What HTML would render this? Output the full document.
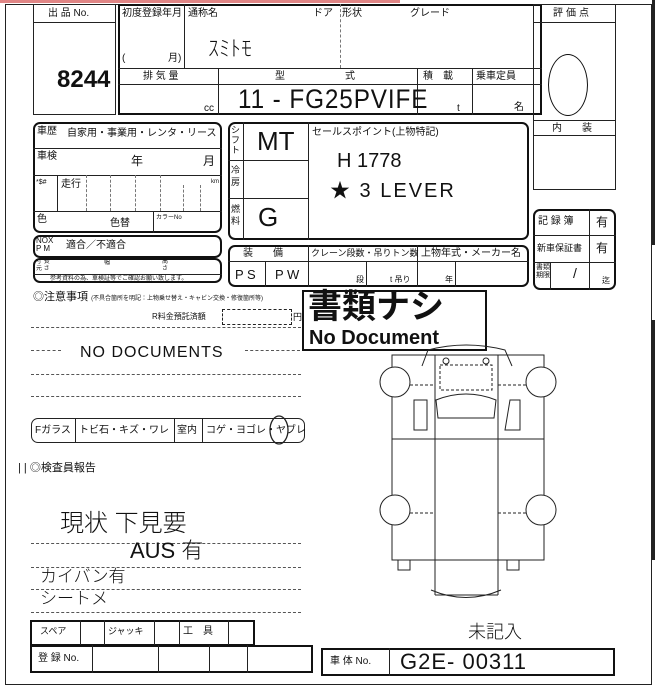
<!DOCTYPE html>
<html><head><meta charset="utf-8"><style>
*{margin:0;padding:0;box-sizing:border-box}
body{width:656px;height:689px;background:#fff;position:relative;overflow:hidden;font-family:"Liberation Sans","Noto Sans CJK JP",sans-serif;color:#111}
div{position:absolute}
.b{border:1px solid #222}
.B{border:2px solid #111}
.r{border-radius:7px}
.t{font-size:10px;white-space:nowrap;line-height:1}
.hl{height:0;border-top:1px solid #222}
.vl{width:0;border-left:1px solid #222}
.dh{height:0;border-top:1px dashed #555}
.dv{width:0;border-left:1px dashed #777}
.hw{font-family:"Liberation Sans","Noto Sans CJK JP",sans-serif;font-weight:300;white-space:nowrap;line-height:1;color:#111}
</style></head><body>
<div style="left:0;top:0;width:400px;height:3px;background:#c33;opacity:.6"></div>
<div class="b" style="left:5px;top:4px;width:647px;height:681px"></div>
<div style="left:652px;top:0;width:3px;height:245px;background:#222"></div>
<div style="left:652px;top:320px;width:3px;height:240px;background:#222"></div>

<div class="b" style="left:33px;top:4px;width:83px;height:111px"></div>
<div class="hl" style="left:33px;top:22px;width:83px"></div>
<div class="t" style="left:48px;top:9px">出 品 No.</div>
<div style="left:57px;top:66px;font-size:24px;font-weight:bold">8244</div>

<div class="B" style="left:118px;top:4px;width:424px;height:111px"></div>
<div class="vl" style="left:184px;top:4px;height:64px"></div>
<div class="dv" style="left:340px;top:4px;height:64px"></div>
<div class="hl" style="left:118px;top:68px;width:424px"></div>
<div class="hl" style="left:118px;top:84px;width:424px"></div>
<div class="vl" style="left:218px;top:68px;height:47px"></div>
<div class="vl" style="left:417px;top:68px;height:47px"></div>
<div class="vl" style="left:472px;top:68px;height:47px"></div>
<div class="t" style="left:122px;top:9px">初度登録年月</div>
<div class="t" style="left:188px;top:9px">通称名</div>
<div class="t" style="left:313px;top:9px">ドア</div>
<div class="t" style="left:342px;top:9px">形状</div>
<div class="t" style="left:410px;top:9px">グレード</div>
<div class="t" style="left:122px;top:54px">(</div>
<div class="t" style="left:168px;top:54px">月)</div>
<div class="hw" style="left:208px;top:38px;font-size:22px">ｽﾐﾄﾓ</div>
<div class="t" style="left:143px;top:72px">排 気 量</div>
<div class="t" style="left:275px;top:72px">型</div>
<div class="t" style="left:345px;top:72px">式</div>
<div class="t" style="left:423px;top:72px">積　載</div>
<div class="t" style="left:476px;top:72px">乗車定員</div>
<div class="t" style="left:204px;top:104px">cc</div>
<div class="t" style="left:457px;top:104px">t</div>
<div class="t" style="left:514px;top:103px">名</div>
<div class="hw" style="left:238px;top:86px;font-size:27px;letter-spacing:1px;transform:scaleX(0.9);transform-origin:left">11 - FG25PVIFE</div>

<div class="b" style="left:533px;top:4px;width:83px;height:186px"></div>
<div class="hl" style="left:533px;top:22px;width:83px"></div>
<div class="hl" style="left:533px;top:120px;width:83px"></div>
<div class="hl" style="left:533px;top:135px;width:83px"></div>
<div class="t" style="left:553px;top:9px;letter-spacing:3px">評価点</div>
<div class="t" style="left:552px;top:124px">内　　装</div>
<div style="left:548px;top:54px;width:40px;height:62px;border:1.5px solid #111;border-radius:50%"></div>

<div class="B r" style="left:533px;top:209px;width:83px;height:81px"></div>
<div class="hl" style="left:533px;top:235px;width:83px"></div>
<div class="hl" style="left:533px;top:262px;width:83px"></div>
<div class="vl" style="left:589px;top:209px;height:81px"></div>
<div class="vl" style="left:550px;top:262px;height:28px"></div>
<div class="t" style="left:538px;top:217px">記 録 簿</div>
<div class="t" style="left:596px;top:216px;font-size:12px">有</div>
<div class="t" style="left:537px;top:244px;font-size:9px">新車保証書</div>
<div class="t" style="left:596px;top:242px;font-size:12px">有</div>
<div class="t" style="left:536px;top:264px;font-size:7px;line-height:1.2">書類<br>期限</div>
<div class="t" style="left:573px;top:266px;font-size:14px">/</div>
<div class="t" style="left:602px;top:277px;font-size:8px">迄</div>

<div class="B r" style="left:33px;top:122px;width:189px;height:111px"></div>
<div class="hl" style="left:33px;top:148px;width:189px"></div>
<div class="hl" style="left:33px;top:175px;width:189px"></div>
<div class="hl" style="left:33px;top:211px;width:189px"></div>
<div class="vl" style="left:57px;top:175px;height:36px"></div>
<div class="dv" style="left:86px;top:175px;height:36px"></div>
<div class="dv" style="left:110px;top:175px;height:36px"></div>
<div class="dv" style="left:135px;top:175px;height:36px"></div>
<div class="dv" style="left:160px;top:175px;height:36px"></div>
<div class="dv" style="left:183px;top:185px;height:26px"></div>
<div class="dv" style="left:200px;top:185px;height:26px"></div>
<div class="t" style="left:37px;top:127px">車歴</div>
<div class="t" style="left:67px;top:129px">自家用・事業用・レンタ・リース</div>
<div class="t" style="left:37px;top:152px">車検</div>
<div class="t" style="left:131px;top:155px;font-size:12px">年</div>
<div class="t" style="left:203px;top:155px;font-size:12px">月</div>
<div class="t" style="left:36px;top:179px;font-size:7px">*$#</div>
<div class="t" style="left:61px;top:180px">走行</div>
<div class="t" style="left:211px;top:179px;font-size:6px">km</div>
<div class="t" style="left:37px;top:215px">色</div>
<div class="t" style="left:110px;top:219px">色替</div>
<div class="t" style="left:156px;top:215px;font-size:6px">カラーNo</div>
<div class="vl" style="left:153px;top:211px;height:22px"></div>

<div class="B r" style="left:33px;top:235px;width:189px;height:23px"></div>
<div class="t" style="left:36px;top:237px;font-size:8px;line-height:1.05">NOX<br>P M</div>
<div class="t" style="left:66px;top:241px">適合／不適合</div>
<div class="B r" style="left:33px;top:258px;width:189px;height:25px"></div>
<div class="hl" style="left:33px;top:274px;width:189px"></div>
<div class="t" style="left:36px;top:259px;font-size:6px;line-height:1.1">寸 長<br>元 さ</div>
<div class="t" style="left:104px;top:260px;font-size:6px">幅</div>
<div class="t" style="left:162px;top:259px;font-size:6px;line-height:1.1">高<br>さ</div>
<div class="t" style="left:50px;top:276px;font-size:6px">参考資料の為、車検証等でご確認お願い致します。</div>

<div class="B r" style="left:228px;top:122px;width:301px;height:118px"></div>
<div class="vl" style="left:243px;top:122px;height:118px"></div>
<div class="vl" style="left:308px;top:122px;height:118px"></div>
<div class="hl" style="left:228px;top:160px;width:80px"></div>
<div class="hl" style="left:228px;top:198px;width:80px"></div>
<div class="t" style="left:231px;top:126px;font-size:9px;line-height:1.1">シ<br>フ<br>ト</div>
<div class="t" style="left:231px;top:165px;font-size:9px;line-height:1.3">冷<br>房</div>
<div class="t" style="left:231px;top:204px;font-size:9px;line-height:1.3">燃<br>料</div>
<div class="hw" style="left:257px;top:128px;font-size:26px">MT</div>
<div class="hw" style="left:258px;top:204px;font-size:26px">G</div>
<div class="t" style="left:312px;top:128px">セールスポイント(上物特記)</div>
<div class="hw" style="left:337px;top:151px;font-size:20px">H 1778</div>
<div class="hw" style="left:330px;top:181px;font-size:20px;letter-spacing:2px">★ 3 LEVER</div>

<div class="B r" style="left:228px;top:245px;width:301px;height:42px"></div>
<div class="hl" style="left:228px;top:261px;width:301px"></div>
<div class="vl" style="left:265px;top:261px;height:26px"></div>
<div class="vl" style="left:308px;top:245px;height:42px"></div>
<div class="vl" style="left:366px;top:261px;height:26px"></div>
<div class="vl" style="left:417px;top:245px;height:42px"></div>
<div class="vl" style="left:455px;top:261px;height:26px"></div>
<div class="t" style="left:243px;top:249px">装　　備</div>
<div class="t" style="left:311px;top:249px;font-size:9px">クレーン段数・吊りトン数</div>
<div class="t" style="left:421px;top:249px">上物年式・メーカー名</div>
<div class="t" style="left:235px;top:268px;font-size:13px">P S</div>
<div class="t" style="left:275px;top:268px;font-size:13px">P W</div>
<div class="t" style="left:356px;top:276px;font-size:8px">段</div>
<div class="t" style="left:390px;top:276px;font-size:8px">t 吊り</div>
<div class="t" style="left:445px;top:276px;font-size:8px">年</div>

<div class="t" style="left:33px;top:292px;font-size:11px">◎注意事項 <span style="font-size:6px">(不具合箇所を明記：上物乗せ替え・キャビン交換・修復箇所等)</span></div>
<div class="t" style="left:152px;top:313px;font-size:8px">R料金預託済額</div>
<div class="b" style="left:222px;top:309px;width:70px;height:16px;border-style:dashed"></div>
<div class="t" style="left:293px;top:313px;font-size:9px">円</div>
<div class="dh" style="left:31px;top:327px;width:270px"></div>
<div class="dh" style="left:31px;top:350px;width:30px"></div>
<div class="dh" style="left:245px;top:350px;width:55px"></div>
<div class="dh" style="left:31px;top:374px;width:270px"></div>
<div class="dh" style="left:31px;top:396px;width:270px"></div>
<div class="hw" style="left:80px;top:345px;font-size:16px;letter-spacing:1px">NO DOCUMENTS</div>

<div style="left:302px;top:290px;width:185px;height:61px;border:2px solid #111;background:#fff"></div>
<div style="left:308px;top:290px;font-size:34px;font-weight:bold;line-height:1;white-space:nowrap">書類ナシ</div>
<div style="left:309px;top:328px;font-size:20px;font-weight:bold;line-height:1;white-space:nowrap">No Document</div>

<svg style="position:absolute;left:0;top:0" width="656" height="689">
<g fill="none" stroke="#222" stroke-width="1">
<rect x="392" y="355" width="152" height="205" fill="#fff"/>
<line x1="435" y1="355" x2="435" y2="595"/>
<line x1="498" y1="355" x2="498" y2="595"/>
<line x1="392" y1="439" x2="544" y2="439"/>
<line x1="435" y1="595" x2="498" y2="595"/>
<path d="M431 590 Q466 605 501 590"/>
<path d="M422 366 L428 350 Q466 340 505 350 L512 366"/>
<path d="M440 365 L492 365 L492 390 L440 390 Z" stroke-dasharray="3,2"/>
<path d="M436 400 Q466 388 496 400 L494 418 L438 418 Z"/>
<rect x="414" y="400" width="13" height="30"/>
<path d="M510 400 L520 400 L520 430 L505 430 Z"/>
<circle cx="446" cy="361" r="3"/><circle cx="486" cy="361" r="3"/>
<circle cx="395" cy="382" r="15" fill="#fff"/>
<circle cx="541" cy="382" r="15" fill="#fff"/>
<circle cx="395" cy="510" r="15" fill="#fff"/>
<circle cx="541" cy="510" r="15" fill="#fff"/>
<line x1="410" y1="385" x2="435" y2="385" stroke-dasharray="3,2"/>
<line x1="498" y1="385" x2="526" y2="385" stroke-dasharray="3,2"/>
<line x1="410" y1="513" x2="435" y2="513" stroke-dasharray="3,2"/>
<line x1="498" y1="513" x2="526" y2="513" stroke-dasharray="3,2"/>
<rect x="398" y="560" width="12" height="10"/>
<rect x="507" y="560" width="12" height="10"/>
<ellipse cx="279" cy="430" rx="9" ry="14" stroke-width="1.3"/>
</g>
</svg>

<div class="b r" style="left:31px;top:418px;width:274px;height:25px"></div>
<div class="vl" style="left:75px;top:418px;height:25px"></div>
<div class="vl" style="left:174px;top:418px;height:25px"></div>
<div class="vl" style="left:202px;top:418px;height:25px"></div>
<div class="t" style="left:35px;top:426px">Fガラス</div>
<div class="t" style="left:79px;top:426px">トビ石・キズ・ワレ</div>
<div class="t" style="left:177px;top:426px">室内</div>
<div class="t" style="left:206px;top:426px">コゲ・ヨゴレ・ヤブレ</div>

<div class="t" style="left:18px;top:463px;font-size:11px">| | ◎検査員報告</div>
<div class="dh" style="left:31px;top:543px;width:270px"></div>
<div class="dh" style="left:31px;top:567px;width:270px"></div>
<div class="dh" style="left:31px;top:589px;width:270px"></div>
<div class="dh" style="left:31px;top:612px;width:270px"></div>
<div class="hw" style="left:60px;top:512px;font-size:24px">現状 下見要</div>
<div class="hw" style="left:130px;top:540px;font-size:22px">AUS 有</div>
<div class="hw" style="left:40px;top:568px;font-size:17px">カイバン有</div>
<div class="hw" style="left:40px;top:590px;font-size:17px">シートメ</div>

<div class="B" style="left:30px;top:620px;width:225px;height:26px"></div>
<div class="vl" style="left:80px;top:620px;height:26px"></div>
<div class="vl" style="left:104px;top:620px;height:26px"></div>
<div class="vl" style="left:154px;top:620px;height:26px"></div>
<div class="vl" style="left:179px;top:620px;height:26px"></div>
<div class="vl" style="left:228px;top:620px;height:26px"></div>
<div class="t" style="left:40px;top:627px;font-size:9px">スペア</div>
<div class="t" style="left:108px;top:627px;font-size:9px">ジャッキ</div>
<div class="t" style="left:183px;top:627px;font-size:10px">工　具</div>
<div class="B" style="left:30px;top:645px;width:283px;height:28px"></div>
<div class="vl" style="left:92px;top:645px;height:28px"></div>
<div class="vl" style="left:158px;top:645px;height:28px"></div>
<div class="vl" style="left:209px;top:645px;height:28px"></div>
<div class="vl" style="left:247px;top:645px;height:28px"></div>
<div class="t" style="left:38px;top:654px">登 録 No.</div>
<div class="B" style="left:321px;top:648px;width:294px;height:28px"></div>
<div class="vl" style="left:389px;top:648px;height:28px"></div>
<div class="t" style="left:330px;top:657px">車 体 No.</div>
<div class="hw" style="left:400px;top:651px;font-size:22px;letter-spacing:1px">G2E- 00311</div>
<div class="hw" style="left:468px;top:623px;font-size:18px">未記入</div>
</body></html>
